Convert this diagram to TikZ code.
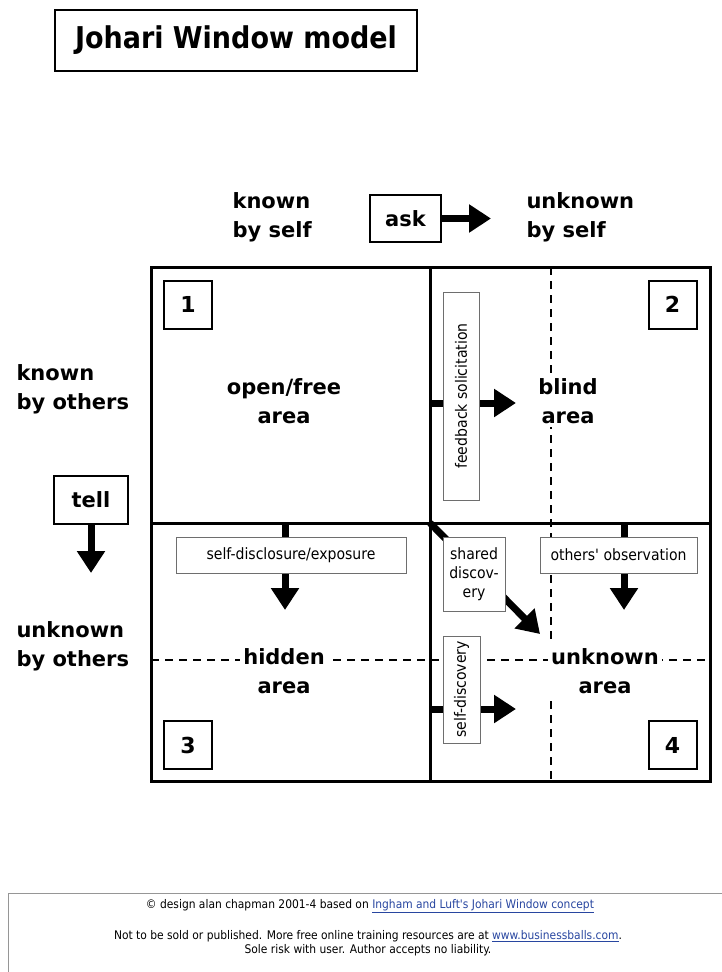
\documentclass[tikz,border=0pt]{standalone}
\usepackage{fontspec}
\setmainfont{DejaVu Sans}
\newfontfamily\narrowfont{DejaVu Sans Condensed}
\usetikzlibrary{arrows.meta}
\definecolor{linkblue}{RGB}{40,70,160}
\definecolor{boxgray}{RGB}{110,110,110}
\definecolor{footgray}{RGB}{150,150,150}

\begin{document}
\begin{tikzpicture}[x=1pt, y=-1pt,
  sidetext/.style={font=\fontsize{21}{29}\selectfont\bfseries, align=left, anchor=west},
  areatext/.style={font=\fontsize{21}{29}\selectfont\bfseries, align=center, fill=white, inner sep=3pt},
  numbox/.style={draw, line width=2pt, minimum width=48pt, minimum height=48pt, font=\fontsize{22}{24}\selectfont\bfseries},
  cuebox/.style={draw, line width=2pt, fill=white, font=\fontsize{21}{24}\selectfont\bfseries},
  smallbox/.style={draw=boxgray, line width=1pt, fill=white, font=\narrowfont\fontsize{15.6}{19}\selectfont, inner sep=0pt},
  foottext/.style={font=\narrowfont\fontsize{11.9}{14}\selectfont},
  fatarrow/.style={line width=7pt, -{Triangle[length=22pt,width=27pt]}},
  divider/.style={line width=3pt},
  dashline/.style={line width=2pt, dash pattern=on 8pt off 6pt}]
  \useasboundingbox (0,0) rectangle (722,972);

  \node (title) at (236, 40.5) [draw, line width=2pt, minimum width=362pt, minimum height=61pt, font=\narrowfont\fontsize{30}{32}\selectfont\bfseries] {Johari Window model};

  \node (knownself) at (229, 217) [sidetext] {known\\by self};
  \node (unknownself) at (523, 217) [sidetext] {unknown\\by self};
  \node (knownothers) at (13, 389) [sidetext] {known\\by others};
  \node (unknownothers) at (13, 646) [sidetext] {unknown\\by others};

  \node (ask) at (405.5, 218.5) [cuebox, minimum width=71pt, minimum height=47pt] {ask};
  \node (tell) at (91, 500) [cuebox, minimum width=74pt, minimum height=48pt] {tell};
  \coordinate (asktip) at (491, 218.5);
  \coordinate (telltip) at (91, 573);
  \draw[fatarrow] (ask.east) -- (asktip);
  \draw[fatarrow] (tell.south) -- (telltip);

  \draw[dashline] (551, 267) -- (551, 781);
  \draw[dashline] (151, 660) -- (710, 660);

  \draw[divider] (151, 267) rectangle (710, 781);
  \draw[divider] (430, 267) -- (430, 781);
  \draw[divider] (151, 523) -- (710, 523);

  \coordinate (fbtail) at (430, 403);
  \coordinate (fbtip) at (516, 403);
  \coordinate (sdtail) at (285, 523);
  \coordinate (sdtip) at (285, 610);
  \coordinate (ootail) at (624, 523);
  \coordinate (ootip) at (624, 610);
  \coordinate (shtail) at (430, 523);
  \coordinate (shtip) at (540, 634);
  \coordinate (sftail) at (430, 709);
  \coordinate (sftip) at (516, 709);
  \draw[fatarrow] (fbtail) -- (fbtip);
  \draw[fatarrow] (sdtail) -- (sdtip);
  \draw[fatarrow] (ootail) -- (ootip);
  \draw[fatarrow] (shtail) -- (shtip);
  \draw[fatarrow] (sftail) -- (sftip);

  \node (feedback) at (461, 396) [smallbox, rotate=90, minimum width=208pt, minimum height=36pt] {feedback solicitation};
  \node (disclosure) at (291, 555) [smallbox, minimum width=230pt, minimum height=36pt] {self-disclosure/exposure};
  \node (observation) at (618.5, 555) [smallbox, minimum width=157pt, minimum height=36pt] {others' observation};
  \node (shared) at (474, 574) [smallbox, align=center, minimum width=62pt, minimum height=74pt] {shared\\discov-\\ery};
  \node (selfdisc) at (461.5, 689.5) [smallbox, rotate=90, minimum width=107pt, minimum height=37pt] {self-discovery};

  \node (open) at (284, 401) [areatext] {open/free\\area};
  \node (blind) at (568, 401) [areatext] {blind\\area};
  \node (hidden) at (284, 671) [areatext] {hidden\\area};
  \node (unknown) at (605, 671) [areatext, inner ysep=6pt] {unknown\\area};

  \node (n1) at (188, 304.5) [numbox] {1};
  \node (n2) at (672.5, 304.5) [numbox] {2};
  \node (n3) at (188, 745) [numbox] {3};
  \node (n4) at (672.5, 745) [numbox] {4};

  \draw[footgray, line width=1pt] (730, 893) -| (8, 980);
  \node (credit) at (370, 906) [foottext] {© design alan chapman 2001-4 based on \textcolor{linkblue}{\underline{Ingham and Luft's Johari Window concept}}};
  \node (notice) at (368, 943) [foottext, align=center] {Not to be sold or published. More free online training resources are at \textcolor{linkblue}{\underline{www.businessballs.com}}.\\Sole risk with user. Author accepts no liability.};
\end{tikzpicture}
\end{document}
